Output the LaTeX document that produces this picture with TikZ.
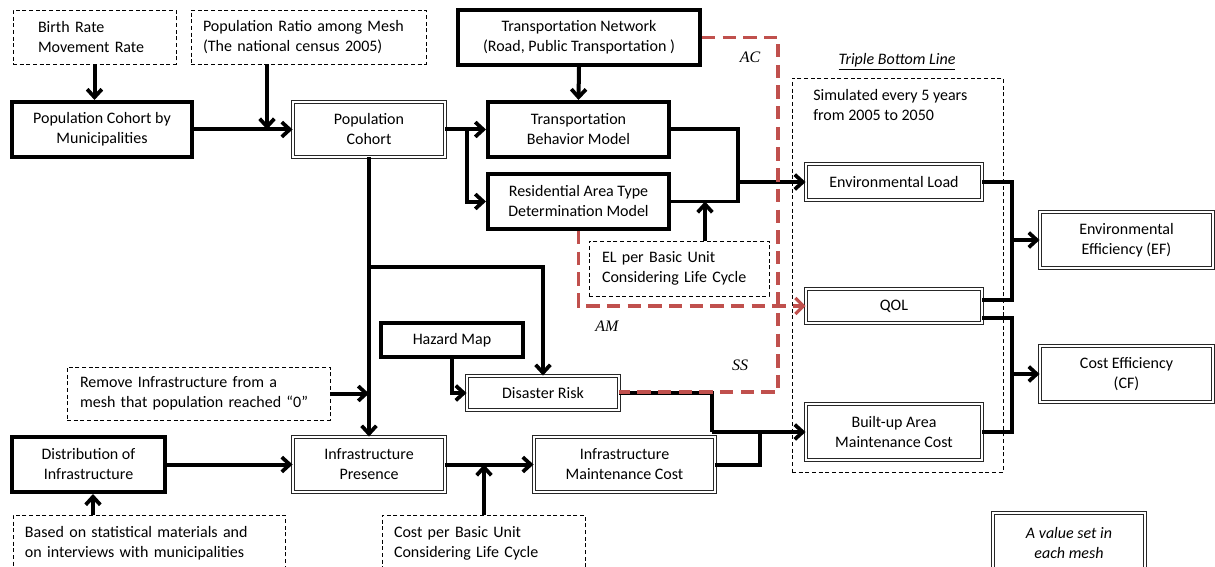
\documentclass[tikz,border=0pt]{standalone}
\usepackage{fontspec}
\setmainfont{Carlito}
\newfontfamily\tmsfont{Liberation Serif}
\usetikzlibrary{arrows.meta}
\definecolor{rc}{HTML}{C0504D}
\newcommand\bx[7]{%
 \pgfmathsetmacro\myw{(#4-#2)*0.75}\pgfmathsetmacro\myh{(#5-#3)*0.75}%
 \pgfmathsetmacro\mycx{(#2+#4)/2}\pgfmathsetmacro\mycy{(#3+#5)/2}%
 \node[#1,minimum width=\myw pt,minimum height=\myh pt] (#6) at (\mycx,\mycy) {#7};}
\newcommand\lbx[8]{%
 \pgfmathsetmacro\myw{(#4-#2)*0.75}\pgfmathsetmacro\myh{(#5-#3)*0.75}%
 \pgfmathsetmacro\mytw{(#4-#2-2*#8)*0.75}\pgfmathsetmacro\mypad{#8*0.75}%
 \pgfmathsetmacro\mycx{(#2+#4)/2}\pgfmathsetmacro\mycy{(#3+#5)/2}%
 \node[#1,minimum height=\myh pt,inner xsep=\mypad pt,text width=\mytw pt,align=left] (#6) at (\mycx,\mycy) {#7};}
\begin{document}
\begin{tikzpicture}[x=0.75pt,y=-0.75pt,
  every node/.style={font=\fontsize{12}{15}\selectfont},
  thk/.style={draw,line width=3pt,inner sep=0pt,align=center},
  dbl/.style={draw=black!85,double=white,line width=0.7pt,double distance=1.4pt,inner sep=0pt,align=center},
  dsh/.style={draw,line width=0.7pt,dash pattern=on 3pt off 2pt,inner sep=0pt},
  ln/.style={line width=3pt},
  arr/.style={line width=3pt,-{Straight Barb[length=6pt,width=11pt,line width=2.8pt]}},
  rdash/.style={draw=rc,line width=2.9pt,dash pattern=on 10pt off 5.5pt},
  lbl/.style={font=\tmsfont\itshape\fontsize{12}{14}\selectfont,inner sep=0pt}]
\clip (0,0) rectangle (1215,567);
% boxes
\lbx{dsh}{13}{10}{176}{64}{bir}{Birth Rate\\Movement Rate}{25}
\lbx{dsh}{191}{10}{426}{64}{pr}{Population Ratio among Mesh\\(The national census 2005)}{12}
\bx{thk}{458}{10}{700}{65}{tn}{Transportation Network\\(Road, Public Transportation )}
\bx{thk}{12}{102}{192}{157}{pcm}{Population Cohort by\\Municipalities}
\bx{dbl}{293}{102}{445}{157}{pc}{Population\\Cohort}
\bx{thk}{488}{102}{669}{157}{tbm}{Transportation\\Behavior Model}
\bx{thk}{488}{174}{669}{229}{rat}{Residential Area Type\\Determination Model}
\lbx{dsh}{589}{241}{769}{296}{elb}{EL per Basic Unit\\Considering Life Cycle}{13}
\node[inner sep=0pt] (tbl) at (897,62) {\underline{\textit{Triple Bottom Line}}};
\bx{dsh}{792}{78}{1003}{472}{sim}{}
\node[inner sep=0pt,anchor=west,align=left] (simt) at (813,105) {Simulated every 5 years\\from 2005 to 2050};
\bx{dbl}{806}{164}{982}{200}{el}{Environmental Load}
\bx{dbl}{806}{289}{982}{323}{qol}{QOL}
\bx{dbl}{806}{404}{982}{460}{bua}{Built-up Area\\Maintenance Cost}
\bx{dbl}{1040}{212}{1213}{268}{ef}{Environmental\\Efficiency (EF)}
\bx{dbl}{1040}{346}{1213}{402}{cf}{Cost Efficiency\\(CF)}
\bx{dbl}{993}{513}{1145}{573}{av}{\textit{A value set in}\\\textit{each mesh}}
\bx{thk}{381}{323}{523}{357}{hm}{Hazard Map}
\bx{dbl}{467}{376}{619}{410}{dr}{Disaster Risk}
\lbx{dsh}{67}{367}{330}{420}{rm}{Remove Infrastructure from a\\mesh that population reached “0”}{13}
\bx{thk}{12}{437}{165}{492}{dist}{Distribution of\\Infrastructure}
\bx{dbl}{293}{437}{445}{492}{ip}{Infrastructure\\Presence}
\bx{dbl}{534}{437}{715}{492}{imc}{Infrastructure\\Maintenance Cost}
\lbx{dsh}{13}{515}{285}{571}{bas}{Based on statistical materials and\\on interviews with municipalities}{12}
\lbx{dsh}{382}{515}{585}{571}{cpb}{Cost per Basic Unit\\Considering Life Cycle}{12}
% coordinates
\coordinate (j1) at (267,129.5);
\coordinate (j2) at (467,129.5);
\coordinate (j3) at (738,182);
\coordinate (j4) at (705,201.5);
\coordinate (j5) at (369,267);
\coordinate (j6) at (93,0);
\coordinate (j7) at (484,0);
\coordinate (j8) at (712,432);
\coordinate (j9) at (760,432);
\coordinate (k1) at (1012,240);
\coordinate (k2) at (1012,300);
\coordinate (k3) at (1012,318);
\coordinate (k4) at (1012,432);
\coordinate (k5) at (1012,374);
\coordinate (r1) at (778,37.5);
\coordinate (r2) at (778,392);
% connectors
\draw[arr] (bir.south) -- (bir.south |- pcm.north);
\draw[arr] (pcm.east) -- (pc.west);
\draw[arr] (j1 |- pr.south) -- (j1);
\draw[arr] (tn.south) -- (tbm.north);
\draw[arr] (pc.east) -- (tbm.west);
\draw[arr] (j2) |- (rat.west);
\draw[ln] (tbm.east) -| (j3);
\draw[ln,line width=2.4pt] (rat.east) -| (j3);
\draw[arr] (j3) -- (el.west);
\draw[arr] (j4 |- elb.north) -- (j4);
\draw[arr] (pc.south) -- (ip.north);
\draw[arr] (j5) -| (dr.north);
\draw[arr] (hm.south) |- (dr.west);
\draw[arr] (rm.east) -- (rm.east -| pc.south);
\draw[arr] (dist.east) -- (ip.west);
\draw[arr] (j6 |- bas.north) -- (j6 |- dist.south);
\draw[arr] (j7 |- cpb.north) -- (j7 |- ip.east);
\draw[arr] (ip.east) -- (imc.west);
\draw[ln] (dr.east) -| (j8);
\draw[arr] (j8) -- (bua.west);
\draw[ln] (imc.east) -| (j9);
\draw[ln] (el.east) -| (k2) -- (k2 -| qol.east);
\draw[arr] (k1) -- (ef.west);
\draw[ln] (k3 -| qol.east) -- (k3) -- (k4) -- (bua.east);
\draw[arr] (k5) -- (cf.west);
% red dashed
\draw[rdash] (tn.east) -- (r1) -- (r2) -- (r2 -| dr.east);
\draw[rdash,-{Straight Barb[length=6pt,width=12pt,line width=2.4pt]}] (rat.south) |- (qol.west);
\node[lbl] (lac) at (750,57) {AC};
\node[lbl] (lam) at (607,326) {AM};
\node[lbl] (lss) at (740,365) {SS};
\end{tikzpicture}
\end{document}
